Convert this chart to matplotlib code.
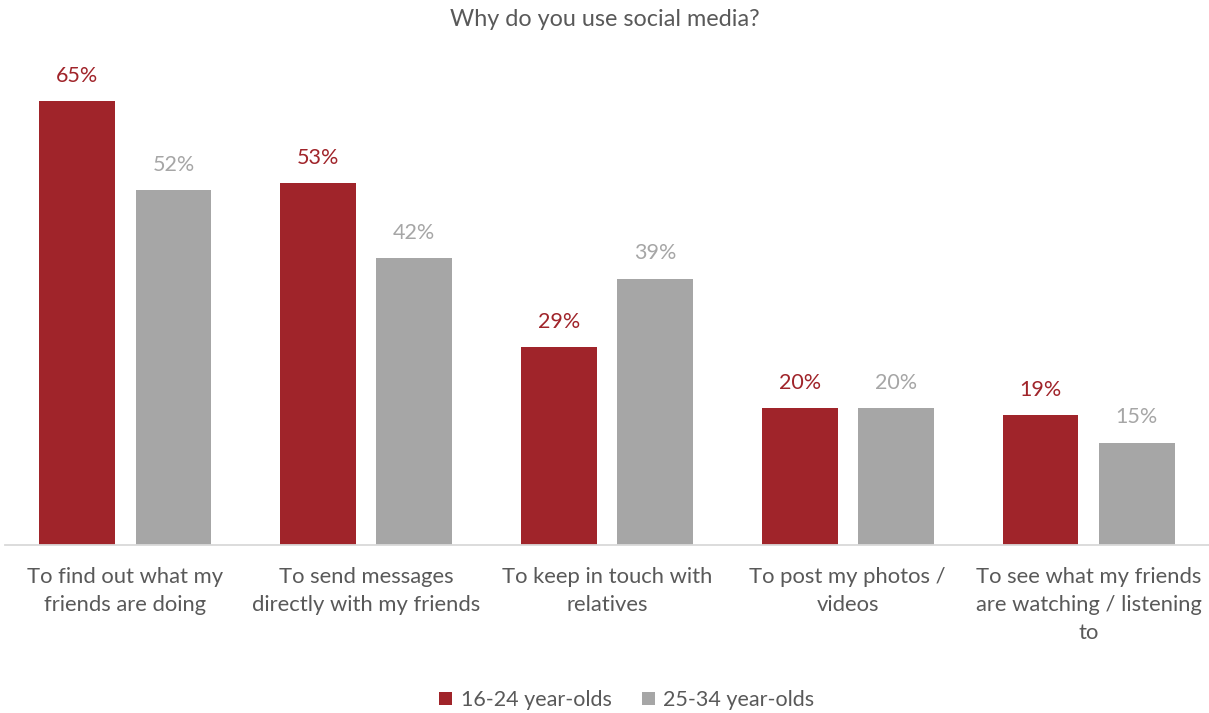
import matplotlib
matplotlib.use("Agg")
import matplotlib.pyplot as plt
import numpy as np

categories = [
    "To find out what my\nfriends are doing",
    "To send messages\ndirectly with my friends",
    "To keep in touch with\nrelatives",
    "To post my photos /\nvideos",
    "To see what my friends\nare watching / listening\nto",
]
series_names = ["16-24 year-olds", "25-34 year-olds"]
young = [65, 53, 29, 20, 19]
older = [52, 42, 39, 20, 15]

RED = "#a0242a"
GREY = "#a6a6a6"
TEXT = "#595959"

plt.rcParams["font.family"] = ["Lato", "DejaVu Sans"]

fig = plt.figure(figsize=(12.09, 7.13), dpi=100)
ax = fig.add_axes([5 / 1209, 168 / 713, 1204 / 1209, 485 / 713])

x = np.arange(len(categories))
width = 0.315
offset = 0.2
bars1 = ax.bar(x - offset, young, width, color=RED, label=series_names[0])
bars2 = ax.bar(x + offset, older, width, color=GREY, label=series_names[1])

for b, v in zip(bars1, young):
    ax.annotate(f"{v}%", (b.get_x() + b.get_width() / 2, v), xytext=(0, 11),
                textcoords="offset points", ha="center", va="bottom",
                color=RED, fontsize=15.5)
for b, v in zip(bars2, older):
    ax.annotate(f"{v}%", (b.get_x() + b.get_width() / 2, v), xytext=(0, 11),
                textcoords="offset points", ha="center", va="bottom",
                color=GREY, fontsize=15.5)

ax.set_xlim(-0.5, len(categories) - 0.5)
ax.set_ylim(0, 71)
ax.set_yticks([])
ax.set_xticks(x)
ax.set_xticklabels(categories, fontsize=15.8, color=TEXT, linespacing=1.5)
ax.tick_params(axis="x", length=0, pad=16)
for s in ["top", "right", "left"]:
    ax.spines[s].set_visible(False)
ax.spines["bottom"].set_color("#d9d9d9")
ax.spines["bottom"].set_linewidth(1.3)

fig.text(0.5, 1 - 19 / 713, "Why do you use social media?", ha="center", va="center",
         fontsize=16.8, color=TEXT)

fig.legend(handles=[bars1, bars2], labels=series_names, loc="center",
           bbox_to_anchor=(627 / 1209, 1 - 700 / 713), ncol=2, frameon=False,
           fontsize=15.5, labelcolor=TEXT, handlelength=0.6, handleheight=0.6,
           handletextpad=0.4, columnspacing=1.4)

fig.savefig("out.png", dpi=100)
